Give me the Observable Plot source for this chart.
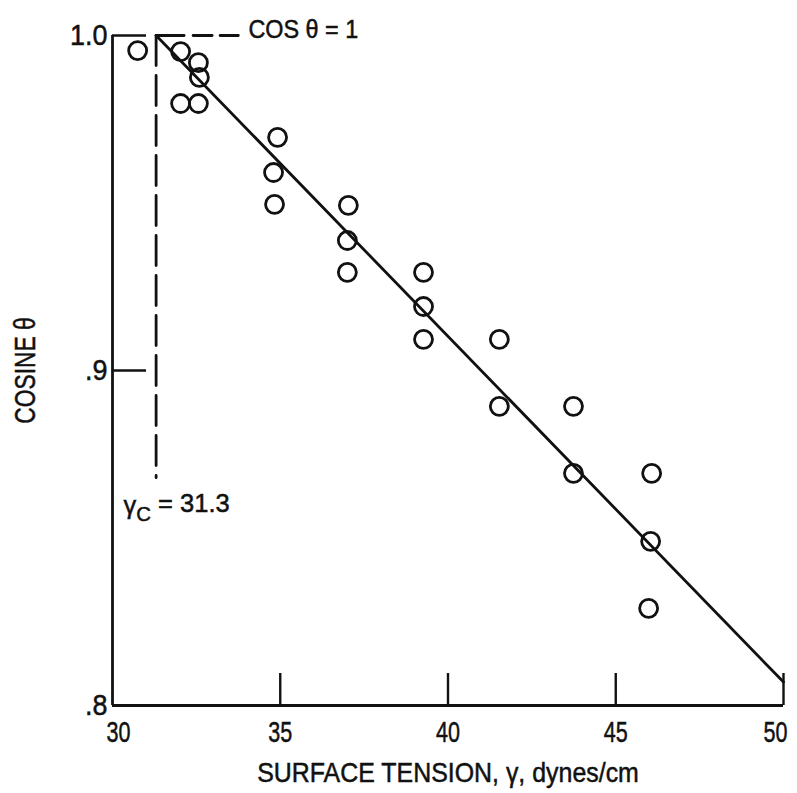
<!DOCTYPE html>
<html><head><meta charset="utf-8">
<script src="https://cdn.jsdelivr.net/npm/d3@7"></script>
<script src="https://cdn.jsdelivr.net/npm/@observablehq/plot@0.6"></script>
<style>
body{margin:0;background:#fff;}
svg{font-family:"Liberation Sans",Arial,sans-serif;}
svg text{stroke:#111;stroke-width:0.5px;}
</style></head><body><div id="chart"></div>
<script>
// measured points
const gammaX = [30.75, 32.03, 32.56, 32.59, 32.03, 32.56, 34.92, 34.80, 34.83, 37.03, 37.0, 37.0, 39.27, 39.27, 39.27, 41.53, 41.53, 43.74, 43.74, 46.07, 46.04, 45.98];
const cosY = [0.9955, 0.9952, 0.9919, 0.9875, 0.9797, 0.9797, 0.9696, 0.9591, 0.9496, 0.9493, 0.9388, 0.9293, 0.9293, 0.9191, 0.9093, 0.9093, 0.8893, 0.8893, 0.8693, 0.8693, 0.849, 0.829];
// fitted line
const fitX = [31.3, 50];
const fitY = [1.0, 0.807];
// critical surface tension construction
const criticalGamma = 31.3;
const criticalLow = 0.868;
const cosOne = 1.0;
const cosOneLineEnd = 33.75;
// axes
const xDomain = [30, 50];
const yDomain = [0.8, 1.0];
const xTicksFirst = [30];
const xTicksMid = [35, 40, 45];
const xTicksLast = [50];
const xInnerTicks = [35, 40, 45, 50];
const yTicks = [0.8, 0.9, 1.0];
const yTickLabels = [".8", ".9", "1.0"];
const yInnerTicks = [0.9, 1.0];
// texts
const xTitle = "SURFACE TENSION, γ, dynes/cm";
const yTitle = "COSINE θ";
const cosLabel = "COS θ = 1";
const gcLabel = "γC = 31.3";
const gcLabelPos = {x: 30.33, y: 0.8597};
const cosLabelPos = {x: 34.05, y: 1.0};

const points = gammaX.map((x, i) => ({x, y: cosY[i]}));
const fit = fitX.map((x, i) => ({x, y: fitY[i]}));
const ink = "#111";
const sw = 2.8;

const tickText = {tickSize: 0, tickPadding: 15, label: null, fontSize: 30, fill: ink};

const chart = Plot.plot({
  width: 797,
  height: 793,
  marginLeft: 112,
  marginRight: 14,
  marginTop: 35,
  marginBottom: 88,
  style: {background: "#fff", color: ink},
  x: {domain: xDomain},
  y: {domain: yDomain},
  marks: [
    Plot.ruleX([xDomain[0]], {stroke: ink, strokeWidth: sw}),
    Plot.ruleY([yDomain[0]], {stroke: ink, strokeWidth: sw}),
    Plot.axisX({ticks: xInnerTicks, tickSize: -32, fill: "none", label: null, stroke: ink, strokeWidth: 2.4}),
    Plot.axisY({ticks: yInnerTicks, tickSize: -34, fill: "none", label: null, stroke: ink, strokeWidth: 2.4}),
    Plot.axisX({ticks: xTicksFirst, ...tickText, dx: 6}),
    Plot.axisX({ticks: xTicksMid, ...tickText}),
    Plot.axisX({ticks: xTicksLast, ...tickText, dx: -8}),
    Plot.axisY({ticks: yTicks, tickSize: 0, tickPadding: 5, label: null, fontSize: 30, fill: ink,
      tickFormat: d => yTickLabels[yTicks.indexOf(d)]}),
    Plot.line([{x: criticalGamma, y: cosOne}, {x: criticalGamma, y: criticalLow}], {x: "x", y: "y", stroke: ink, strokeWidth: sw, strokeDasharray: "30,10"}),
    Plot.line([{x: criticalGamma, y: cosOne}, {x: cosOneLineEnd, y: cosOne}], {x: "x", y: "y", stroke: ink, strokeWidth: sw, strokeDasharray: "28,9,19,8"}),
    Plot.line(fit, {x: "x", y: "y", stroke: ink, strokeWidth: sw}),
    Plot.dot(points, {x: "x", y: "y", r: 9, stroke: ink, strokeWidth: sw, fill: "none"}),
    Plot.text([cosLabel], {x: cosLabelPos.x, y: cosLabelPos.y, text: d => d, textAnchor: "start", dy: -6, fontSize: 26, fill: ink}),
    Plot.text([gcLabel], {x: gcLabelPos.x, y: gcLabelPos.y, text: d => d, textAnchor: "start", fontSize: 26, fill: ink}),
    Plot.text([xTitle], {frameAnchor: "bottom", dy: 68, lineAnchor: "middle", textAnchor: "middle", text: d => d, fontSize: 28, fill: ink}),
    Plot.text([yTitle], {frameAnchor: "left", dx: -87, rotate: -90, textAnchor: "middle", lineAnchor: "middle", text: d => d, fontSize: 30, fill: ink})
  ]
});
document.getElementById("chart").appendChild(chart);
// subscript C in the γC label
d3.select(chart).selectAll("text").filter(function() { return this.textContent === gcLabel; })
  .each(function() {
    const t = d3.select(this);
    t.text(null);
    t.append("tspan").text("γ");
    t.append("tspan").attr("dy", "0.35em").attr("font-size", "0.8em").text("C");
    t.append("tspan").attr("dy", "-0.35em").text(" = 31.3");
  });
// condensed lettering like the original
function squeeze(nodes, factor) {
  nodes.each(function() {
    const w = this.getComputedTextLength();
    if (w > 0) {
      this.setAttribute("textLength", (w * factor).toFixed(1));
      this.setAttribute("lengthAdjust", "spacingAndGlyphs");
    }
  });
}
const svg = d3.select(chart);
squeeze(svg.selectAll('g[aria-label="x-axis tick label"] text'), 0.72);
squeeze(svg.selectAll('g[aria-label="y-axis tick label"] text'), 0.9);
svg.selectAll('g[aria-label="text"] text').each(function() {
  const s = this.textContent;
  const f = s === xTitle ? 0.89 : s === yTitle ? 0.76 : s === cosLabel ? 0.9 : 0.98;
  squeeze(d3.select(this), f);
});
</script>
</body></html>
